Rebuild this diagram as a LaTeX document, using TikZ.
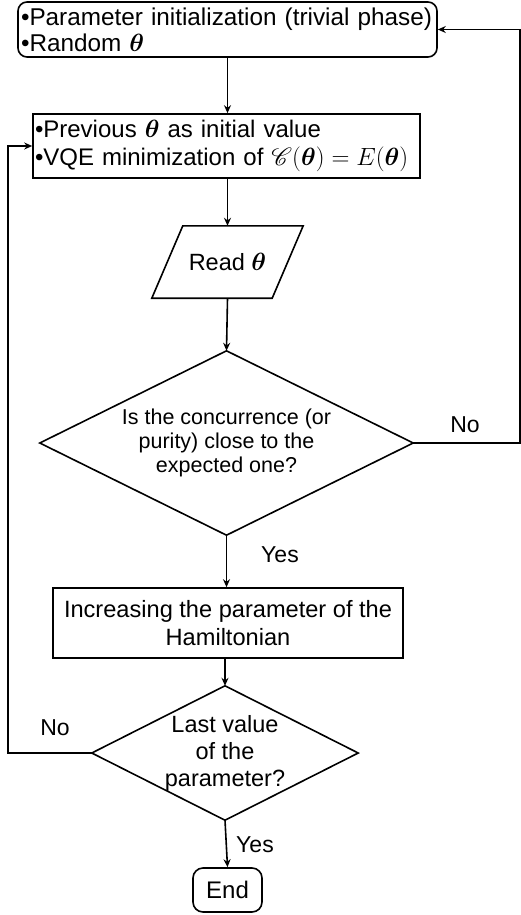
\documentclass[tikz,border=0pt]{standalone}
\usepackage{amsmath}
\usepackage{mathrsfs}
\usepackage{fontspec}
\setmainfont{Liberation Sans}
\usetikzlibrary{arrows.meta}
\begin{document}
\begin{tikzpicture}[x=1pt,y=-1pt,
  every node/.style={font=\fontsize{23.5}{25}\selectfont},
  line/.style={line width=1.6pt},
  arr/.style={line width=1.6pt,-{Stealth[length=8pt,width=7pt]}},
  boxa/.style={draw,line width=1.6pt,inner sep=2pt},
  ghost/.style={draw=none,inner sep=0pt,align=center},
  lbl/.style={font=\fontsize{23}{25}\selectfont}
]
\useasboundingbox (0,0) rectangle (521,915);

\node[boxa,rounded corners=9pt,minimum width=419pt,minimum height=55pt,align=left,text width=413pt,
  font=\fontsize{24.3}{26}\selectfont] (top) at (227.5,29.5)
  {\textbullet Parameter initialization (trivial phase)\\\textbullet Random $\boldsymbol{\theta}$};

\node[boxa,minimum width=387pt,minimum height=64pt,align=left,text width=383pt,
  font=\fontsize{24}{28}\selectfont] (vqe) at (226.5,146)
  {\textbullet Previous $\boldsymbol{\theta}$ as initial value\\\textbullet VQE minimization of $\mathscr{C}(\boldsymbol{\theta})=E(\boldsymbol{\theta})$};

\node[ghost,minimum width=120pt,minimum height=72pt] (read) at (227.5,262) {Read $\boldsymbol{\theta}$};
\draw[line] ([xshift=15.5pt]read.north west) -- ([xshift=15.5pt]read.north east)
  -- ([xshift=-15.5pt]read.south east) -- ([xshift=-15.5pt]read.south west) -- cycle;

\node[ghost,minimum width=373pt,minimum height=184pt,font=\fontsize{21.5}{24}\selectfont] (d1) at (226.5,443)
  {Is the concurrence (or\\purity) close to the\\expected one?};
\draw[line] (d1.north) -- (d1.east) -- (d1.south) -- (d1.west) -- cycle;

\node[boxa,minimum width=350pt,minimum height=70pt,align=center,font=\fontsize{23.6}{28}\selectfont] (inc) at (228,623)
  {Increasing the parameter of the\\Hamiltonian};

\node[ghost,minimum width=266pt,minimum height=134pt,font=\fontsize{23.5}{27}\selectfont] (d2) at (225,753)
  {Last value\\of the\\parameter?};
\draw[line] (d2.north) -- (d2.east) -- (d2.south) -- (d2.west) -- cycle;

\node[boxa,rounded corners=10pt,minimum width=69pt,minimum height=44pt,font=\fontsize{24}{26}\selectfont] (end) at (227.5,890) {End};

\coordinate (rline) at (520,443);
\coordinate (lline) at (8,753);

\draw[arr] (top.south) -- (top.south |- vqe.north);
\draw[arr] (vqe.south -| read.north) -- (read.north);
\draw[arr] (read.south) -- (d1.north);
\draw[arr] (d1.south) -- (d1.south |- inc.north);
\draw[arr] (inc.south -| d2.north) -- (d2.north);
\draw[arr] (d2.south) -- (end.north);
\draw[arr] (d1.east) -- (rline) |- (top.east);
\draw[arr] (d2.west) -- (lline) |- (vqe.west);

\node[lbl] (no1) at (465,425) {No};
\node[lbl] (yes1) at (280,555) {Yes};
\node[lbl] (no2) at (55,728) {No};
\node[lbl] (yes2) at (255,845) {Yes};
\end{tikzpicture}
\end{document}
